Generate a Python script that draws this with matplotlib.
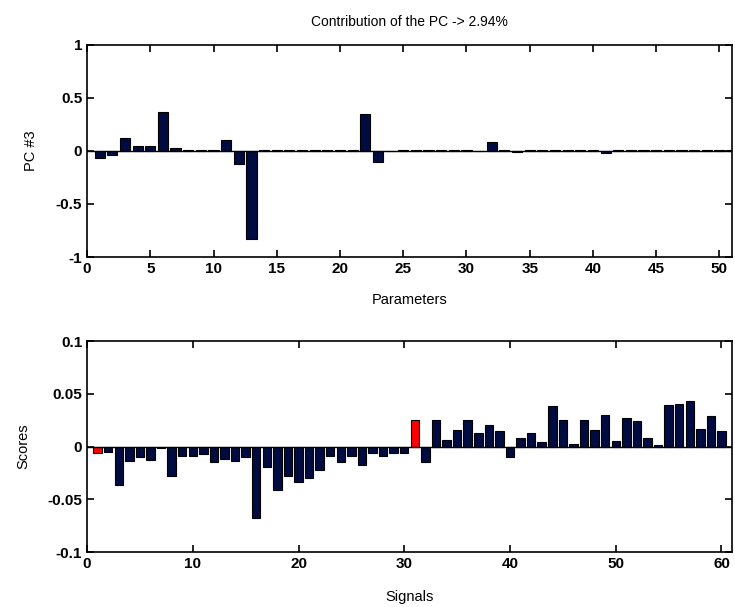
import numpy as np
import matplotlib.pyplot as plt

plt.rcParams['font.family'] = ['Liberation Sans', 'DejaVu Sans']

# PC #3 loadings for the 51 parameters
params = np.arange(1, 52)
pc3 = [-0.07, -0.04, 0.12, 0.05, 0.05, 0.37, 0.03, 0.01, 0.01, 0.01,
       0.10, -0.125, -0.83, 0.01, 0.01, 0.01, 0.01, 0.01, 0.01, 0.01,
       0.01, 0.35, -0.10, 0.0, 0.01, 0.01, 0.01, 0.01, 0.01, 0.01,
       0.0, 0.085, 0.01, -0.01, 0.01, 0.01, 0.01, 0.01, 0.01, 0.01,
       -0.02, 0.01, 0.01, 0.01, 0.01, 0.01, 0.01, 0.01, 0.01, 0.01,
       0.01]

# scores for the 60 signals
signals = np.arange(1, 61)
scores = [-0.006, -0.005, -0.0365, -0.0137, -0.010, -0.0124, -0.001, -0.028, -0.0092, -0.0092,
          -0.007, -0.015, -0.0117, -0.0137, -0.010, -0.0676, -0.0193, -0.0416, -0.0276, -0.0333,
          -0.0295, -0.0219, -0.0089, -0.015, -0.0092, -0.018, -0.006, -0.0092, -0.006, -0.006,
          0.0248, -0.0149, 0.0248, 0.0057, 0.0152, 0.0248, 0.0127, 0.020, 0.0143, -0.0095,
          0.0079, 0.0127, 0.0041, 0.038, 0.0248, 0.0022, 0.0248, 0.0152, 0.0295, 0.0054,
          0.0267, 0.0238, 0.0079, 0.001, 0.0394, 0.0406, 0.0432, 0.0165, 0.0286, 0.0143]
highlight = [1, 31]

bar_col = '#000b40'

fig = plt.figure(figsize=(7.35, 6.07), dpi=100)
ax1 = fig.add_axes([0.1184, 0.5766, 0.8776, 0.3493])
ax2 = fig.add_axes([0.1184, 0.0906, 0.8776, 0.3476])

ax1.bar(params, pc3, width=0.8, color=bar_col, edgecolor='black', linewidth=0.8)
ax1.axhline(0, color='black', linewidth=1.0)
ax1.set_xlim(0, 51)
ax1.set_ylim(-1, 1)
ax1.set_xticks(np.arange(0, 51, 5))
ax1.set_yticks([-1, -0.5, 0, 0.5, 1])
ax1.set_yticklabels(['-1', '-0.5', '0', '0.5', '1'])
ax1.set_xlabel('Parameters', fontsize=10.5, labelpad=12)
ax1.set_ylabel('PC #3', fontsize=10.5, labelpad=13)
ax1.set_title('Contribution of the PC -> 2.94%', fontsize=10, pad=14)

cols = ['red' if s in highlight else bar_col for s in signals]
ax2.bar(signals, scores, width=0.8, color=cols, edgecolor='black', linewidth=0.8)
ax2.axhline(0, color='black', linewidth=1.0)
ax2.set_xlim(0, 61)
ax2.set_ylim(-0.1, 0.1)
ax2.set_xticks(np.arange(0, 61, 10))
ax2.set_yticks([-0.1, -0.05, 0, 0.05, 0.1])
ax2.set_yticklabels(['-0.1', '-0.05', '0', '0.05', '0.1'])
ax2.set_xlabel('Signals', fontsize=10.5, labelpad=14)
ax2.set_ylabel('Scores', fontsize=10.5, labelpad=12)

for ax in (ax1, ax2):
    ax.tick_params(direction='in', top=True, right=True, length=5, width=1.2,
                   labelsize=11)
    for lbl in ax.get_xticklabels() + ax.get_yticklabels():
        lbl.set_fontweight('bold')
    for sp in ax.spines.values():
        sp.set_linewidth(1.2)

fig.savefig('out.png', dpi=100)
